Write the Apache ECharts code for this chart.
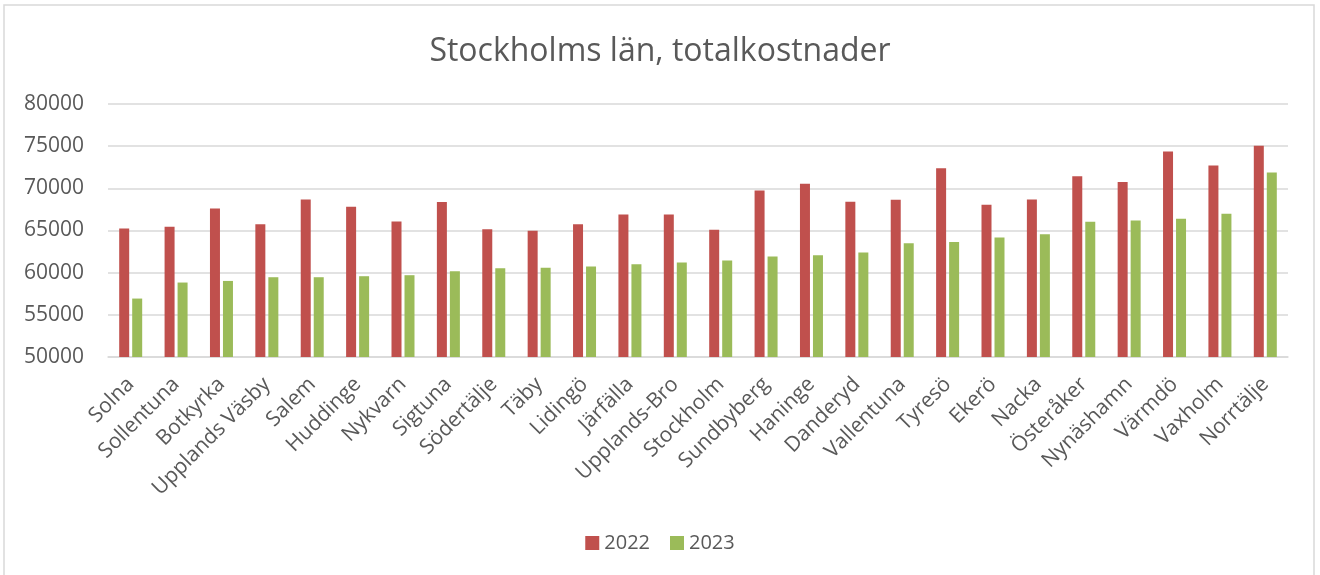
<!DOCTYPE html>
<html>
<head>
<meta charset="utf-8">
<script src="https://cdn.jsdelivr.net/npm/echarts@6/dist/echarts.min.js"></script>
<style>
  html, body { margin: 0; padding: 0; background: #fff; }
  #main { width: 1320px; height: 575px; }
</style>
</head>
<body>
<div id="main"></div>
<script>
var kommuner = ['Solna', 'Sollentuna', 'Botkyrka', 'Upplands Väsby', 'Salem', 'Huddinge', 'Nykvarn',
  'Sigtuna', 'Södertälje', 'Täby', 'Lidingö', 'Järfälla', 'Upplands-Bro', 'Stockholm', 'Sundbyberg',
  'Haninge', 'Danderyd', 'Vallentuna', 'Tyresö', 'Ekerö', 'Nacka', 'Österåker', 'Nynäshamn',
  'Värmdö', 'Vaxholm', 'Norrtälje'];

var kostnad2022 = [65240, 65430, 67620, 65750, 68690, 67810, 66070, 68370, 65160, 64960, 65750, 66900,
  66900, 65080, 69750, 70540, 68400, 68640, 72370, 68040, 68690, 71420, 70740, 74380, 72720, 75050];

var kostnad2023 = [56930, 58830, 59020, 59460, 59460, 59580, 59700, 60170, 60530, 60570, 60730, 61000,
  61210, 61440, 61920, 62070, 62390, 63500, 63650, 64170, 64570, 66030, 66190, 66380, 66980, 71890];

var yTicks = [50000, 55000, 60000, 65000, 70000, 75000, 80000];

var myChart = echarts.init(document.getElementById('main'));
var textColor = '#595959';
var font = 'Open Sans';

option = {
  backgroundColor: '#fff',
  animation: false,
  title: {
    text: 'Stockholms län, totalkostnader',
    left: 'center',
    top: 31,
    textStyle: { color: textColor, fontSize: 32, fontWeight: 'normal', fontFamily: font }
  },
  graphic: [{
    type: 'rect',
    shape: { x: 4, y: 5, width: 1310, height: 590 },
    style: { fill: 'none', stroke: '#d9d9d9', lineWidth: 1.5 },
    silent: true
  }],
  legend: {
    data: ['2022', '2023'],
    bottom: 17,
    left: 'center',
    itemWidth: 14,
    itemHeight: 14,
    itemGap: 20,
    icon: 'rect',
    textStyle: { color: textColor, fontSize: 20, fontFamily: font }
  },
  grid: {
    left: 108,
    right: 32,
    top: 104,
    bottom: 218,
    containLabel: false
  },
  xAxis: {
    type: 'category',
    data: kommuner,
    axisLine: { lineStyle: { color: '#d9d9d9', width: 1.5 } },
    axisTick: { show: false },
    axisLabel: {
      rotate: 45,
      interval: 0,
      margin: 24,
      color: textColor,
      fontSize: 21,
      fontFamily: font
    }
  },
  yAxis: {
    type: 'value',
    min: yTicks[0],
    max: yTicks[yTicks.length - 1],
    interval: 5000,
    axisLine: { show: false },
    axisTick: { show: false },
    splitLine: { lineStyle: { color: '#d9d9d9', width: 1.5 } },
    axisLabel: {
      color: textColor, fontSize: 21, fontFamily: font, margin: 24,
      formatter: function (v) { return String(v); }
    }
  },
  series: [{
    name: '2022',
    type: 'bar',
    data: kostnad2022,
    barWidth: 10,
    barGap: '30%',
    itemStyle: { color: '#C0504D' }
  }, {
    name: '2023',
    type: 'bar',
    data: kostnad2023,
    barWidth: 10,
    barGap: '30%',
    itemStyle: { color: '#9BBB59' }
  }]
};

myChart.setOption(option);
</script>
</body>
</html>
